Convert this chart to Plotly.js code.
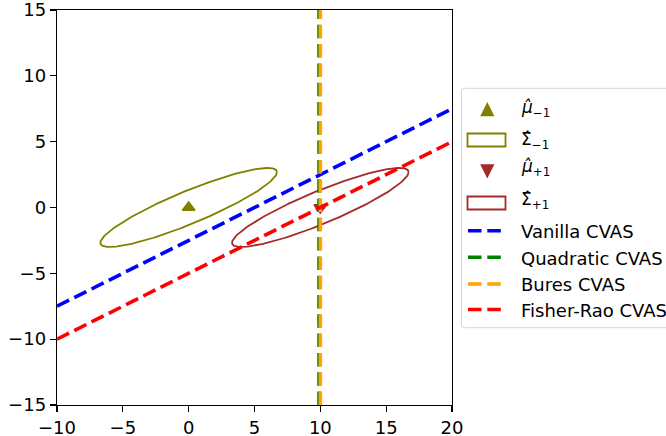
<!DOCTYPE html>
<html>
<head>
<meta charset="utf-8">
<script src="https://cdn.plot.ly/plotly-3.0.1.min.js"></script>
<style>html,body{margin:0;padding:0;background:#fff;}</style>
</head>
<body>
<div id="chart" style="width:666px;height:436px;"></div>
<script>
// Class means
const meanNeg = [0, 0];
const meanPos = [10, 0];
// Covariance entries [sxx, sxy, syy] of the drawn ellipses
const covNeg = [45, 18, 9];
const covPos = [45, 18, 9];
// Decision boundaries (endpoints)
const vanillaX = [-10, 20];
const vanillaY = [-7.5, 7.5];
const quadraticX = [9.9, 9.9];
const quadraticY = [-15, 15];
const buresX = [10, 10];
const buresY = [-15, 15];
const fisherX = [-10, 20];
const fisherY = [-10, 5];
const xTicks = [-10, -5, 0, 5, 10, 15, 20];
const yTicks = [-15, -10, -5, 0, 5, 10, 15];
const seriesNames = ['<i>μ̂</i><sub>−1</sub>', 'Σ̂<sub>−1</sub>', '<i>μ̂</i><sub>+1</sub>', 'Σ̂<sub>+1</sub>',
  'Vanilla CVAS', 'Quadratic CVAS', 'Bures CVAS', 'Fisher-Rao CVAS'];

const OLIVE = '#808000', BROWN = '#a52a2a', BLUE = '#0000ff', GREEN = '#008000',
      ORANGE = '#ffa500', RED = '#ff0000';

function ellipse(mean, cov) {
  const l11 = Math.sqrt(cov[0]);
  const l21 = cov[1] / l11;
  const l22 = Math.sqrt(cov[2] - l21 * l21);
  const xs = [], ys = [];
  for (let i = 0; i <= 240; i++) {
    const t = 2 * Math.PI * i / 240;
    const c = Math.cos(t), s = Math.sin(t);
    xs.push(mean[0] + l11 * c);
    ys.push(mean[1] + l21 * c + l22 * s);
  }
  return {x: xs, y: ys};
}

const eNeg = ellipse(meanNeg, covNeg);
const ePos = ellipse(meanPos, covPos);
const dash = '13.5px,5.8px';
const LW = 3.6;

const traces = [
  {x: [meanNeg[0]], y: [meanNeg[1]], mode: 'markers', name: seriesNames[0],
   marker: {symbol: 'triangle-up', size: 11, color: OLIVE, line: {color: OLIVE, width: 1.5}}},
  {x: eNeg.x, y: eNeg.y, mode: 'lines', name: seriesNames[1],
   line: {color: OLIVE, width: 1.8}},
  {x: [meanPos[0]], y: [meanPos[1]], mode: 'markers', name: seriesNames[2],
   marker: {symbol: 'triangle-down', size: 11, color: BROWN, line: {color: BROWN, width: 1.5}}},
  {x: ePos.x, y: ePos.y, mode: 'lines', name: seriesNames[3],
   line: {color: BROWN, width: 1.8}},
  {x: vanillaX, y: vanillaY, mode: 'lines', name: seriesNames[4],
   line: {color: BLUE, width: LW, dash: dash}},
  {x: quadraticX, y: quadraticY, mode: 'lines', name: seriesNames[5],
   line: {color: GREEN, width: LW, dash: dash}},
  {x: buresX, y: buresY, mode: 'lines', name: seriesNames[6],
   line: {color: ORANGE, width: LW, dash: dash}},
  {x: fisherX, y: fisherY, mode: 'lines', name: seriesNames[7],
   line: {color: RED, width: LW, dash: dash}}
];
traces.forEach(t => { t.showlegend = false; t.cliponaxis = true; });

// ---- layout geometry (pixels) ----
const W = 666, H = 436;
const PL = 57, PR = 452, PT = 10, PB = 405;
const px2x = p => (p - PL) / (PR - PL);
const py2y = p => (PB - p) / (PB - PT);

const axisCommon = {
  showline: true, mirror: true, linecolor: '#000', linewidth: 1.3,
  ticks: 'outside', ticklen: 6, tickwidth: 1.3, tickcolor: '#000',
  showgrid: false, zeroline: false, ticklabeloverflow: 'allow',
  tickfont: {family: 'DejaVu Sans', size: 18, color: '#000'}
};

// ---- custom legend (matplotlib style) ----
const shapes = [];
const annotations = [];
const boxL = 461.5, boxT = 88.3, boxB = 327.7, boxW = 215;
const bh = boxB - boxT, r = 3;
shapes.push({
  type: 'path', xref: 'paper', yref: 'paper', xsizemode: 'pixel', ysizemode: 'pixel',
  xanchor: px2x(boxL), yanchor: py2y(boxT),
  path: `M${r},0 L${boxW},0 L${boxW},${-bh} L${r},${-bh} Q0,${-bh} 0,${-bh + r} L0,${-r} Q0,0 ${r},0 Z`,
  line: {color: '#d5d5d5', width: 1}, fillcolor: '#ffffff', layer: 'above'
});

const iconL = 468, iconR = 501.5, iconC = 487.3, textX = 520;
const itemY = [109.5, 140, 171, 203, 230.7, 257.3, 284, 309.5];
const textY = [108, 140.5, 167.5, 200, 231.5, 258.1, 284.8, 310.3];
const kinds = ['up', 'rect', 'down', 'rect', 'line', 'line', 'line', 'line'];
const colors = [OLIVE, OLIVE, BROWN, BROWN, BLUE, GREEN, ORANGE, RED];

kinds.forEach((k, i) => {
  const c = colors[i];
  if (k === 'up' || k === 'down') {
    const s = k === 'up' ? 1 : -1;
    shapes.push({
      type: 'path', xref: 'paper', yref: 'paper', xsizemode: 'pixel', ysizemode: 'pixel',
      xanchor: px2x(iconC), yanchor: py2y(itemY[i]),
      path: `M-6,${-6 * s} L6,${-6 * s} L0,${6 * s} Z`,
      line: {color: c, width: 1.4}, fillcolor: c, layer: 'above'
    });
  } else if (k === 'rect') {
    shapes.push({
      type: 'rect', xref: 'paper', yref: 'paper',
      x0: px2x(iconL - 0.5), x1: px2x(505.5), y0: py2y(itemY[i] - 6.5), y1: py2y(itemY[i] + 6.5),
      line: {color: c, width: 1.8}, fillcolor: 'rgba(0,0,0,0)', layer: 'above'
    });
  } else {
    shapes.push({
      type: 'line', xref: 'paper', yref: 'paper',
      x0: px2x(iconL), x1: px2x(iconR), y0: py2y(itemY[i]), y1: py2y(itemY[i]),
      line: {color: c, width: LW, dash: dash}, layer: 'above'
    });
  }
  annotations.push({
    xref: 'paper', yref: 'paper', x: px2x(textX), y: py2y(textY[i]),
    xanchor: 'left', yanchor: 'middle', showarrow: false, borderpad: 0,
    text: seriesNames[i],
    font: {family: 'DejaVu Sans', size: i < 4 ? 17 : 18, color: '#000'}
  });
});

const layout = {
  width: W, height: H,
  margin: {l: PL, r: W - PR, t: PT, b: H - PB},
  paper_bgcolor: '#fff', plot_bgcolor: '#fff',
  showlegend: false,
  xaxis: Object.assign({}, axisCommon, {range: [-10, 20], tickvals: xTicks}),
  yaxis: Object.assign({}, axisCommon, {range: [-15, 15], tickvals: yTicks}),
  shapes: shapes,
  annotations: annotations,
  font: {family: 'DejaVu Sans', color: '#000'}
};

Plotly.newPlot('chart', traces, layout, {staticPlot: true});
</script>
</body>
</html>
